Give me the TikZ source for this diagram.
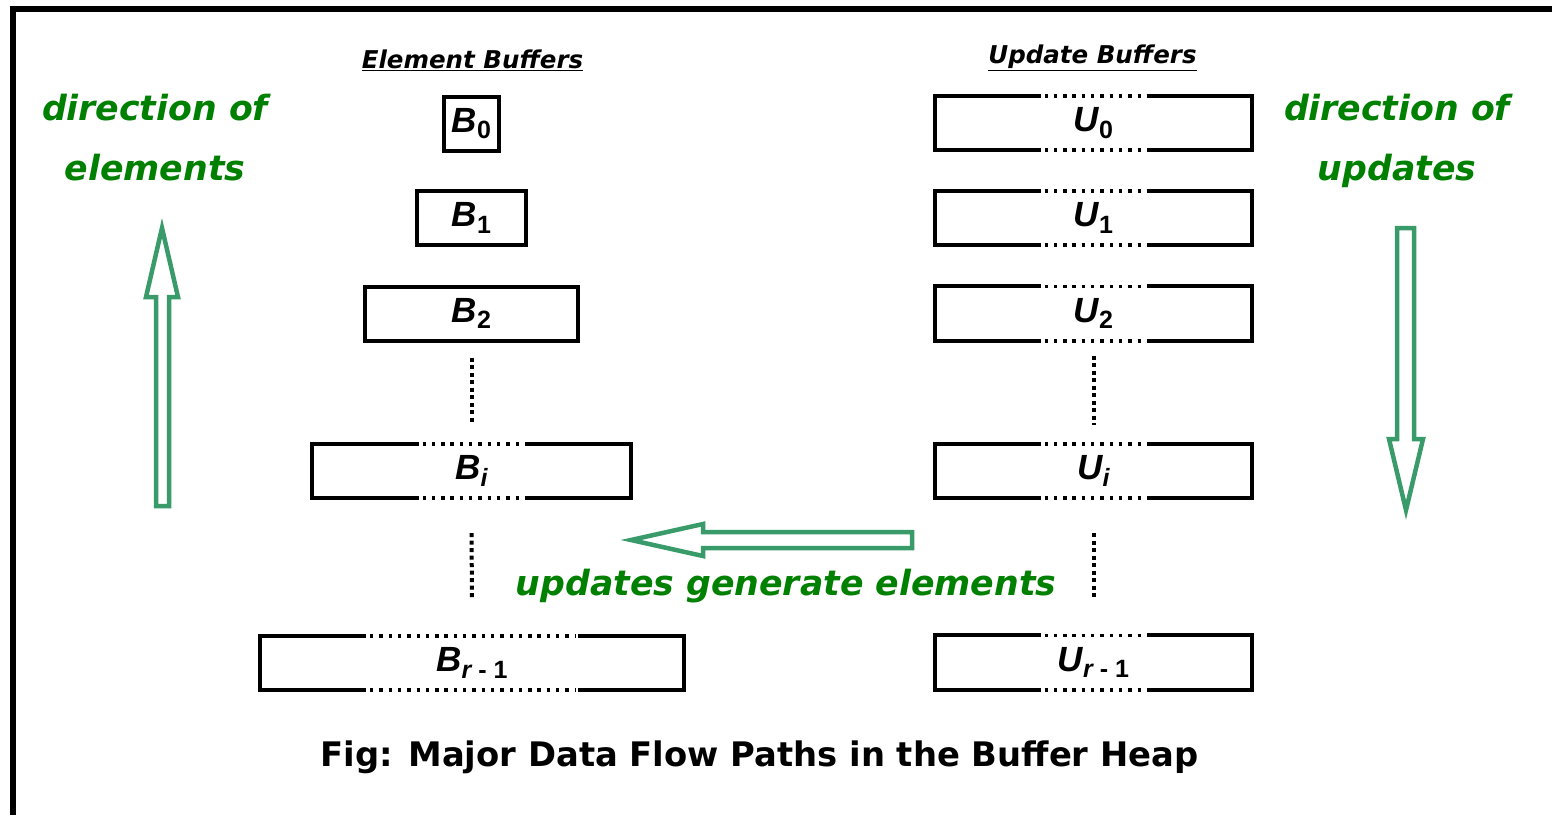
\documentclass[tikz,border=0pt]{standalone}
\usepackage{fontspec}
\setmainfont{DejaVu Sans}
\newfontfamily\arialf{Liberation Sans}
\definecolor{txtgreen}{RGB}{0,128,0}
\definecolor{arrgreen}{RGB}{58,155,106}
\newcommand\subs[1]{\raisebox{-6.5pt}{\fontsize{25}{25}\selectfont\upshape #1}}
\newcommand\gapbox[2]{%
  \draw[edge] ([xshift=-#2]#1.north) -- (#1.north west) -- (#1.south west) -- ([xshift=-#2]#1.south);
  \draw[edge] ([xshift=#2]#1.north) -- (#1.north east) -- (#1.south east) -- ([xshift=#2]#1.south);
  \draw[dotsline] ([xshift=-#2+4]#1.north) -- ([xshift=#2-2]#1.north);
  \draw[dotsline] ([xshift=-#2+4]#1.south) -- ([xshift=#2-2]#1.south);
}
\begin{document}
\begin{tikzpicture}[x=1pt,y=-1pt,
  buf/.style={minimum width=#1, minimum height=54pt, inner sep=0pt,
    font=\arialf\bfseries\itshape\fontsize{35}{35}\selectfont},
  solidbuf/.style={buf=#1, draw, line width=4pt},
  edge/.style={line width=4pt, line join=miter},
  dotsline/.style={line width=3.6pt, dash pattern=on 3.4pt off 5.9pt},
  vdots/.style={line width=4pt, dash pattern=on 4pt off 3.5pt},
  head/.style={font=\bfseries\itshape\fontsize{24.5}{24.5}\selectfont, inner sep=0pt},
  greentxt/.style={font=\bfseries\itshape\fontsize{34.7}{60}\selectfont, text=txtgreen, align=center, inner sep=0pt},
  blockarrow/.style={draw=arrgreen, line width=4.5pt, line join=miter, fill=white},
  frame/.style={line width=6.5pt}]
\useasboundingbox (0,0) rectangle (1552,815);
% frame (top and left visible)
\coordinate (fbl) at (13,815);
\coordinate (ftl) at (13,9);
\coordinate (ftr) at (1552,9);
\draw[frame] (fbl) -- (ftl) -- (ftr);

% headers
\node[head] (hE) at (472.5,60) {\underline{Element Buffers}};
\node[head] (hU) at (1092.5,58) {\underline{Update Buffers}};

% element buffers
\node[solidbuf=55] (B0) at (471.5,123.5) {B\subs{0}};
\node[solidbuf=109] (B1) at (471.5,218) {B\subs{1}};
\node[solidbuf=213] (B2) at (471.5,313.5) {B\subs{2}};
\node[buf=319] (Bi) at (471.5,471) {B\subs{\itshape i}};
\node[buf=424] (Br) at (472,663) {B\subs{{\itshape r} - 1}};
\gapbox{Bi}{53}
\gapbox{Br}{106}

% update buffers
\node[buf=317] (U0) at (1093.5,123) {U\subs{0}};
\node[buf=317] (U1) at (1093.5,218) {U\subs{1}};
\node[buf=317] (U2) at (1093.5,313.5) {U\subs{2}};
\node[buf=317] (Ui) at (1093.5,471) {U\subs{\itshape i}};
\node[buf=317] (Ur) at (1093.5,662.5) {U\subs{{\itshape r} - 1}};
\foreach \n in {U0,U1,U2,Ui,Ur}{\gapbox{\n}{53}}

% vertical dotted continuations
\draw[vdots, shorten <=15pt, shorten >=19pt] (B2.south) -- (Bi.north);
\draw[vdots, shorten <=35pt, shorten >=36pt] (Bi.south) -- (Br.north);
\draw[vdots, shorten <=15pt, shorten >=19pt] (U2.south) -- (Ui.north);
\draw[vdots, shorten <=35pt, shorten >=36pt] (Ui.south) -- (Ur.north);

% side texts
\node[greentxt] (tl) at (155,138) {direction of\\elements};
\node[greentxt] (tr) at (1397,141) {direction of\\updates};
\node[greentxt] (tm) at (786,586) {updates generate elements};

% block arrows
\draw[blockarrow] (156,506) -- (156,297) -- (146,297) -- (162,228) -- (178,297) -- (169,297) -- (169,506) -- cycle;
\draw[blockarrow] (1397,228) -- (1397,439) -- (1389,439) -- (1406,510) -- (1423,439) -- (1414,439) -- (1414,228) -- cycle;
\draw[blockarrow] (912,532) -- (703,532) -- (703,524) -- (631,540) -- (703,556) -- (703,548) -- (912,548) -- cycle;

% caption
\node[font=\bfseries\fontsize{33.8}{34}\selectfont, inner sep=0pt] (cap) at (759.5,757) {Fig: Major Data Flow Paths in the Buffer Heap};
\end{tikzpicture}
\end{document}
